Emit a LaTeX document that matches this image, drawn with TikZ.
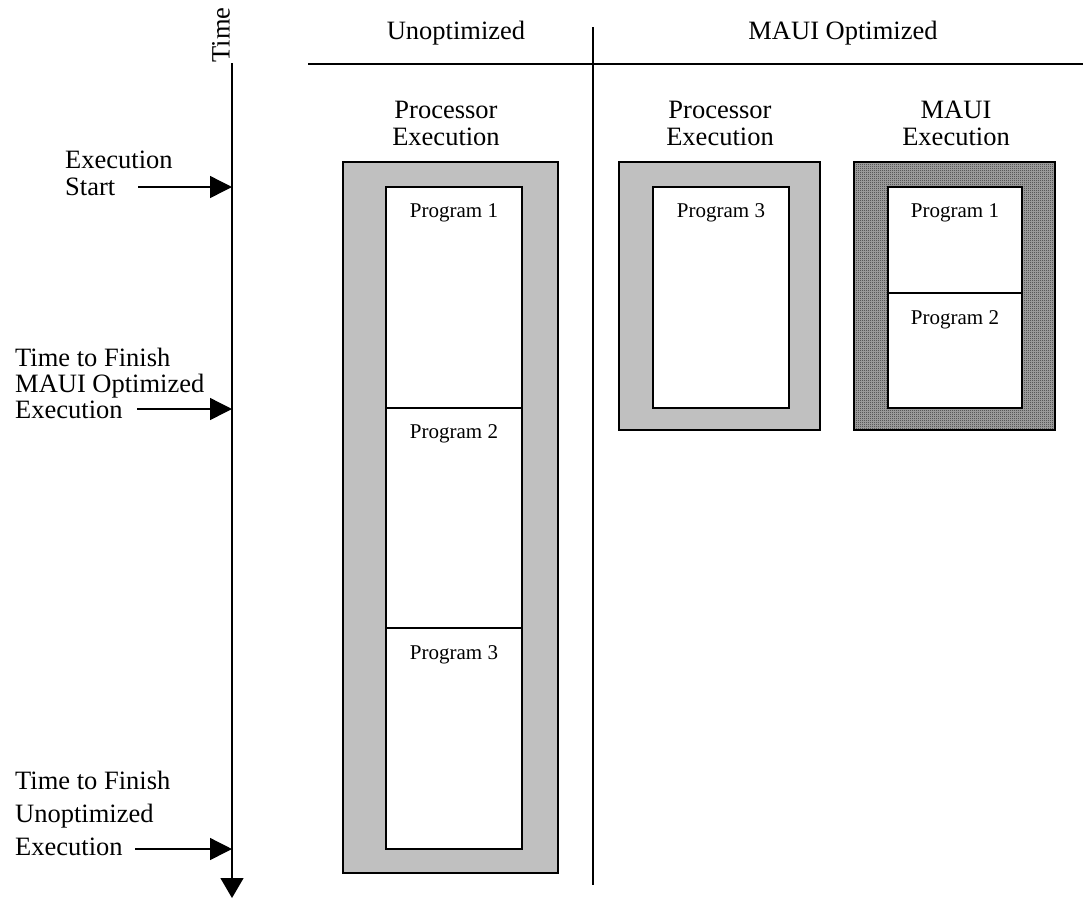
\documentclass[tikz,border=0pt]{standalone}
\usepackage{fontspec}
\setmainfont{Liberation Serif}
\usetikzlibrary{arrows.meta,patterns}

% fine dither used for the MAUI execution frame
\pgfdeclarepatternformonly{dither}{\pgfpointorigin}{\pgfpoint{2pt}{2pt}}{\pgfpoint{2pt}{2pt}}%
  {\pgfpathrectangle{\pgfpointorigin}{\pgfpoint{1pt}{1pt}}\pgfusepath{fill}}

\definecolor{panelgray}{HTML}{C0C0C0}
\definecolor{dithergray}{HTML}{9A9A9A}

\tikzset{
  txt/.style={inner sep=0pt, font=\fontsize{26.5}{27}\selectfont},
  prog/.style={inner sep=0pt, font=\fontsize{21}{24}\selectfont},
  rule/.style={line width=1.4pt},
  frame/.style={draw, line width=1.6pt, inner sep=0pt},
  procframe/.style={frame, fill=panelgray},
  seg/.style={frame, fill=white},
  tick/.style={line width=1.4pt, -{Triangle[length=22pt,width=22pt]}},
}

\begin{document}
\begin{tikzpicture}[x=1pt,y=-1pt]
\useasboundingbox (0,0) rectangle (1083,898);

% ---- time axis ----
\coordinate (ttop) at (232,63);
\coordinate (tbot) at (232,898);
\draw[line width=1.4pt, -{Triangle[length=20pt,width=23pt]}] (ttop) -- (tbot);
\node[txt, rotate=90] (time) at (221,35) {Time};

% events on the time axis
\node[txt, align=left, anchor=west, font=\fontsize{26.5}{27}\selectfont] (evstart) at (65,173.5) {Execution\\Start};
\node[txt, align=left, anchor=west, font=\fontsize{26.5}{26}\selectfont] (evmaui) at (15,383) {Time to Finish\\MAUI Optimized\\Execution};
\node[txt, align=left, anchor=west, font=\fontsize{26.5}{33}\selectfont] (evunopt) at (15,813) {Time to Finish\\Unoptimized\\Execution};

\coordinate (a1) at (138,187);  \coordinate (b1) at (232,187);
\coordinate (a2) at (137,409);  \coordinate (b2) at (232,409);
\coordinate (a3) at (135,849);  \coordinate (b3) at (232,849);
\draw[tick] (a1) -- (b1);
\draw[tick] (a2) -- (b2);
\draw[tick] (a3) -- (b3);

% ---- column headers ----
\coordinate (hl) at (308,64);  \coordinate (hr) at (1083,64);
\coordinate (dt) at (593,27);  \coordinate (db) at (593,885);
\draw[rule] (hl) -- (hr);
\draw[rule] (dt) -- (db);
\node[txt] (hunopt) at (456,33) {Unoptimized};
\node[txt] (hmaui) at (843,33) {MAUI Optimized};

\node[txt, align=center] (l1) at (446,123) {Processor\\Execution};
\node[txt, align=center] (l2) at (720,123) {Processor\\Execution};
\node[txt, align=center] (l3) at (956,123) {MAUI\\Execution};

% ---- unoptimized processor execution ----
\node[procframe, minimum width=215pt, minimum height=711pt] (o1) at (450.5,517.5) {};
\node[seg, minimum width=136pt, minimum height=221pt] (u1) at (454,297.5) {};
\node[seg, minimum width=136pt, minimum height=220pt] (u2) at (454,518) {};
\node[seg, minimum width=136pt, minimum height=221pt] (u3) at (454,738.5) {};
\node[prog] (pu1) at (454,213) {Program 1};
\node[prog] (pu2) at (454,434) {Program 2};
\node[prog] (pu3) at (454,655) {Program 3};

% ---- optimized processor execution ----
\node[procframe, minimum width=201pt, minimum height=268pt] (o2) at (719.5,296) {};
\node[seg, minimum width=136pt, minimum height=221pt] (m1) at (721,297.5) {};
\node[prog] (pm1) at (721,213) {Program 3};

% ---- MAUI execution ----
\fill[dithergray] (854,162) rectangle (1055,430);
\fill[pattern=dither, pattern color=black] (854,162) rectangle (1055,430);
\node[frame, minimum width=201pt, minimum height=268pt] (o3) at (954.5,296) {};
\node[seg, minimum width=134pt, minimum height=106pt] (x1) at (955,240) {};
\node[seg, minimum width=134pt, minimum height=115pt] (x2) at (955,350.5) {};
\node[prog] (px1) at (955,213) {Program 1};
\node[prog] (px2) at (955,320) {Program 2};
\end{tikzpicture}
\end{document}
